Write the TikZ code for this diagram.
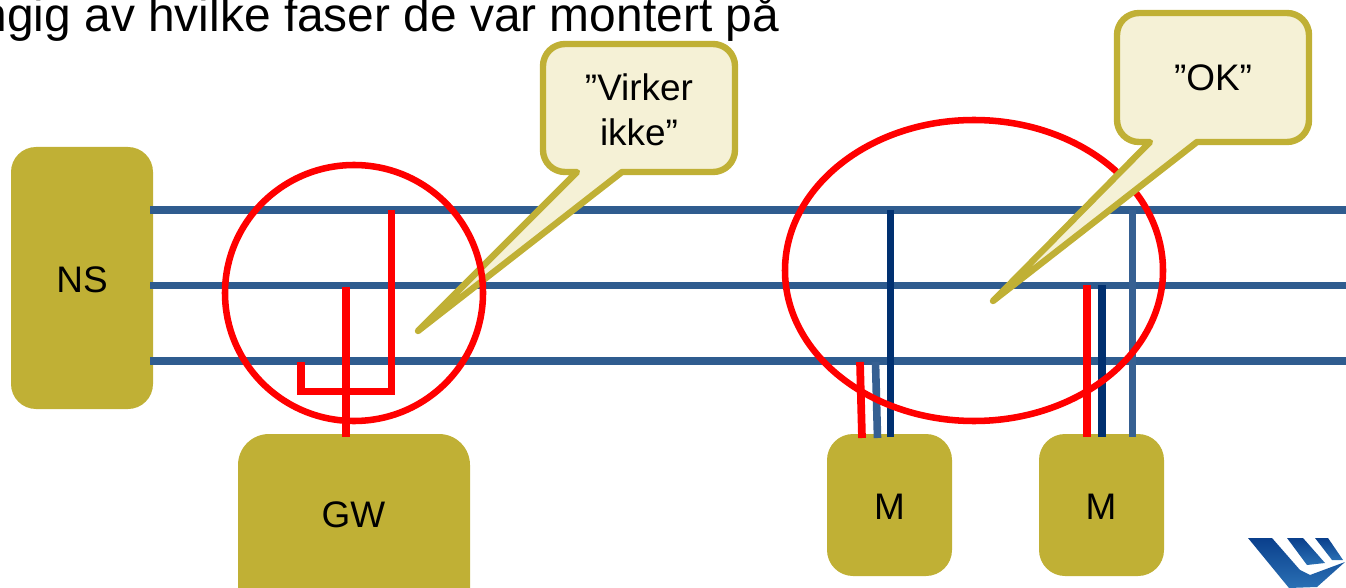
\documentclass[tikz,border=0pt]{standalone}
\usepackage{fontspec}
\setmainfont{Liberation Sans}
\definecolor{gold}{HTML}{C0B035}
\definecolor{cream}{HTML}{F5F1D6}
\definecolor{wire}{HTML}{2F5C8F}
\definecolor{wiredark}{HTML}{003070}
\definecolor{wiremid}{HTML}{366092}
\definecolor{redline}{HTML}{FF0000}
\definecolor{logoA}{HTML}{0A3F8C}
\definecolor{logoB}{HTML}{2A70B4}
\tikzset{
  px/.style={x=0.75pt,y=-0.75pt},
  lab/.style={font=\fontsize{27.7}{33.5}\selectfont,text=black,inner sep=0pt,align=center},
  unit/.style={fill=gold,draw=none},
  bus/.style={draw=wire,line width=5.7pt},
  redw/.style={draw=redline,line width=5.8pt},
  darkw/.style={draw=wiredark,line width=5.7pt},
  midw/.style={draw=wiremid,line width=5.7pt},
  ring/.style={draw=redline,line width=4.9pt},
  callout/.style={draw=gold,fill=cream,line width=4.8pt,line join=round}
}
\begin{document}
\begin{tikzpicture}[px]
\useasboundingbox (0,0) rectangle (1346,588);
\clip (0,0) rectangle (1346,588);
% title
\node[anchor=base west,inner sep=0pt,font=\fontsize{35.9}{40}\selectfont] (title) at (-19.5,32) {ngig av hvilke faser de var montert på};
% units
\fill[unit,rounded corners=25*0.75pt] (11,147) rectangle (153,409);
\node[lab] (ns) at (82,280) {NS};
\fill[unit,rounded corners=31*0.75pt] (238,434) rectangle (470,620);
\node[lab] (gw) at (353.5,515) {GW};
\fill[unit,rounded corners=26*0.75pt] (827,434) rectangle (952,576);
\node[lab] (m1) at (889.5,507) {M};
\fill[unit,rounded corners=26*0.75pt] (1039,434) rectangle (1164,576);
\node[lab] (m2) at (1101,507) {M};
% bus bars
\coordinate (b1a) at (150,210); \coordinate (b1b) at (1346,210);
\coordinate (b2a) at (150,285.5); \coordinate (b2b) at (1346,285.5);
\coordinate (b3a) at (150,361); \coordinate (b3b) at (1346,361);
\draw[bus] (b1a) -- (b1b);
\draw[bus] (b2a) -- (b2b);
\draw[bus] (b3a) -- (b3b);
% wires
\coordinate (g1) at (346,287); \coordinate (g2) at (346,437);
\draw[redw] (g1) -- (g2);
\coordinate (h1) at (391.5,210); \coordinate (h2) at (391.5,391.5);
\coordinate (h3) at (301,391.5); \coordinate (h4) at (301,362);
\draw[redw,line join=miter] (h1) -- (h2) -- (h3) -- (h4);
\coordinate (a1) at (860,362); \coordinate (a2) at (862,438);
\coordinate (a3) at (875.5,362); \coordinate (a4) at (877.5,438);
\coordinate (a5) at (890.5,210); \coordinate (a6) at (890.5,437);
\draw[midw] (a3) -- (a4);
\draw[darkw] (a5) -- (a6);
\draw[redw] (a1) -- (a2);
\coordinate (c1) at (1087,285); \coordinate (c2) at (1087,437);
\coordinate (c3) at (1102,285); \coordinate (c4) at (1102,437);
\coordinate (c5) at (1132.5,210); \coordinate (c6) at (1132.5,437);
\draw[midw] (c5) -- (c6);
\draw[darkw] (c3) -- (c4);
\draw[redw] (c1) -- (c2);
% callout 1, then the rings, then callout 2
\coordinate (t1) at (418,331);
\draw[callout] (577,172) [rounded corners=22*0.75pt] -- (543,172) -- (543,44) -- (735,44) -- (735,172) [sharp corners] -- (622,172) -- (t1) -- cycle;
\node[lab] (v) at (639,109.5) {”Virker\\ikke”};
\draw[ring] (354,293) ellipse [x radius=129,y radius=128];
\draw[ring] (974,270.5) ellipse [x radius=189,y radius=150.5];
\coordinate (t2) at (993,301);
\draw[callout] (1150,142) [rounded corners=22*0.75pt] -- (1117,142) -- (1117,13) -- (1309,13) -- (1309,142) [sharp corners] -- (1197,142) -- (t2) -- cycle;
\node[lab] (ok) at (1213,77.5) {”OK”};
% logo
\shade[top color=logoA,bottom color=logoB]
  (1248,538) -- (1272,538) -- (1300,570) -- (1310,575) -- (1345,562) -- (1317,587) -- (1289,588) -- cycle;
\shade[top color=logoA,bottom color=logoB] (1287,538) -- (1303,538) -- (1325,563) -- (1307,565) -- cycle;
\shade[top color=logoA,bottom color=logoB] (1315,538) -- (1328,538) -- (1343,560) -- (1332,560) -- cycle;
\end{tikzpicture}
\end{document}
